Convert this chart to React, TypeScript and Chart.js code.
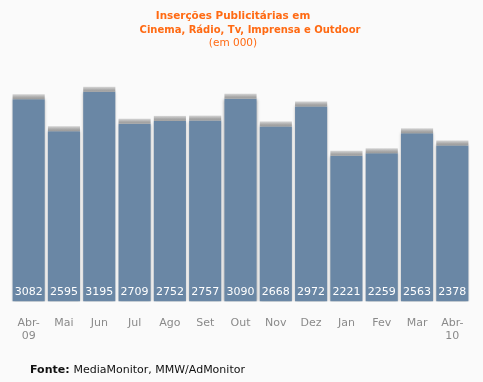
import React, { useEffect, useRef } from "react";
import { Chart, registerables } from "chart.js";

Chart.register(...registerables);

const categories: (string | string[])[] = [
  ["Abr-", "09"], "Mai", "Jun", "Jul", "Ago", "Set", "Out", "Nov", "Dez", "Jan", "Fev", "Mar", ["Abr-", "10"],
];
const values: number[] = [3082, 2595, 3195, 2709, 2752, 2757, 3090, 2668, 2972, 2221, 2259, 2563, 2378];
const titleLines: string[] = ["Inserções Publicitárias em", "Cinema, Rádio, Tv, Imprensa e Outdoor"];
const subtitleText = "(em 000)";
const sourceLabel = "Fonte:";
const sourceText = "MediaMonitor, MMW/AdMonitor";

const BAR_COLOR = "#6a87a5";
const ORANGE = "#ff6a13";

const decorPlugin = {
  id: "decor",
  beforeDraw(chart: any) {
    const ctx = chart.ctx;
    ctx.save();
    ctx.fillStyle = "#fafafa";
    ctx.fillRect(0, 0, chart.width, chart.height);
    ctx.restore();
  },
  beforeDatasetDraw(chart: any) {
    const ctx = chart.ctx;
    ctx.save();
    ctx.shadowColor = "rgba(0,0,0,0.35)";
    ctx.shadowBlur = 3;
    ctx.shadowOffsetX = 0;
    ctx.shadowOffsetY = 0;
  },
  afterDatasetDraw(chart: any) {
    chart.ctx.restore();
  },
  afterDatasetsDraw(chart: any) {
    const ctx = chart.ctx;
    const meta = chart.getDatasetMeta(0);
    ctx.save();
    meta.data.forEach((bar: any, i: number) => {
      const w = bar.width;
      const left = bar.x - w / 2;
      const g = ctx.createLinearGradient(0, bar.y - 5, 0, bar.y);
      g.addColorStop(0, "#d6d6d6");
      g.addColorStop(0.6, "#a9a9a9");
      g.addColorStop(1, "#9a9a9a");
      ctx.fillStyle = g;
      ctx.fillRect(left, bar.y - 5, w, 5);
      ctx.fillStyle = "#ffffff";
      ctx.font = "11px 'DejaVu Sans'";
      ctx.textAlign = "center";
      ctx.textBaseline = "middle";
      ctx.fillText(String(values[i]), bar.x, bar.base - 9);
    });
    // titles
    ctx.fillStyle = ORANGE;
    ctx.textBaseline = "middle";
    ctx.textAlign = "center";
    ctx.font = "bold 10.4px 'DejaVu Sans'";
    ctx.fillText(titleLines[0], 233, 16);
    ctx.font = "bold 10px 'DejaVu Sans'";
    ctx.fillText(titleLines[1], 250, 30);
    ctx.font = "10.5px 'DejaVu Sans'";
    ctx.fillText(subtitleText, 233, 43);
    // footer
    ctx.textAlign = "left";
    ctx.fillStyle = "#111111";
    ctx.font = "bold 11px 'DejaVu Sans'";
    ctx.fillText(sourceLabel, 30, 370);
    const w1 = ctx.measureText(sourceLabel + " ").width;
    ctx.font = "11px 'DejaVu Sans'";
    ctx.fillText(sourceText, 30 + w1, 370);
    ctx.restore();
  },
};

export default function App() {
  const ref = useRef<HTMLCanvasElement>(null);
  useEffect(() => {
    document.body.style.margin = "0";
    const chart = new Chart(ref.current!, {
      type: "bar",
      data: {
        labels: categories,
        datasets: [
          {
            data: values,
            backgroundColor: BAR_COLOR,
            borderWidth: 0,
            barPercentage: 0.91,
            categoryPercentage: 1,
          },
        ],
      },
      options: {
        responsive: false,
        animation: false,
        layout: { padding: { left: 11, right: 13, top: 56, bottom: 24 } },
        plugins: {
          legend: { display: false },
          title: { display: false },
          tooltip: { enabled: false },
        },
        scales: {
          x: {
            grid: { display: false, drawTicks: false },
            border: { display: false },
            ticks: {
              color: "#8a8a8a",
              font: { family: "'DejaVu Sans'", size: 11, lineHeight: 1.2 },
              padding: 15,
              maxRotation: 0,
              autoSkip: false,
            },
          },
          y: {
            display: false,
            min: 0,
            max: 3740,
          },
        },
      },
      plugins: [decorPlugin],
    });
    return () => chart.destroy();
  }, []);
  return <canvas ref={ref} width={483} height={382} style={{ display: "block" }} />;
}
